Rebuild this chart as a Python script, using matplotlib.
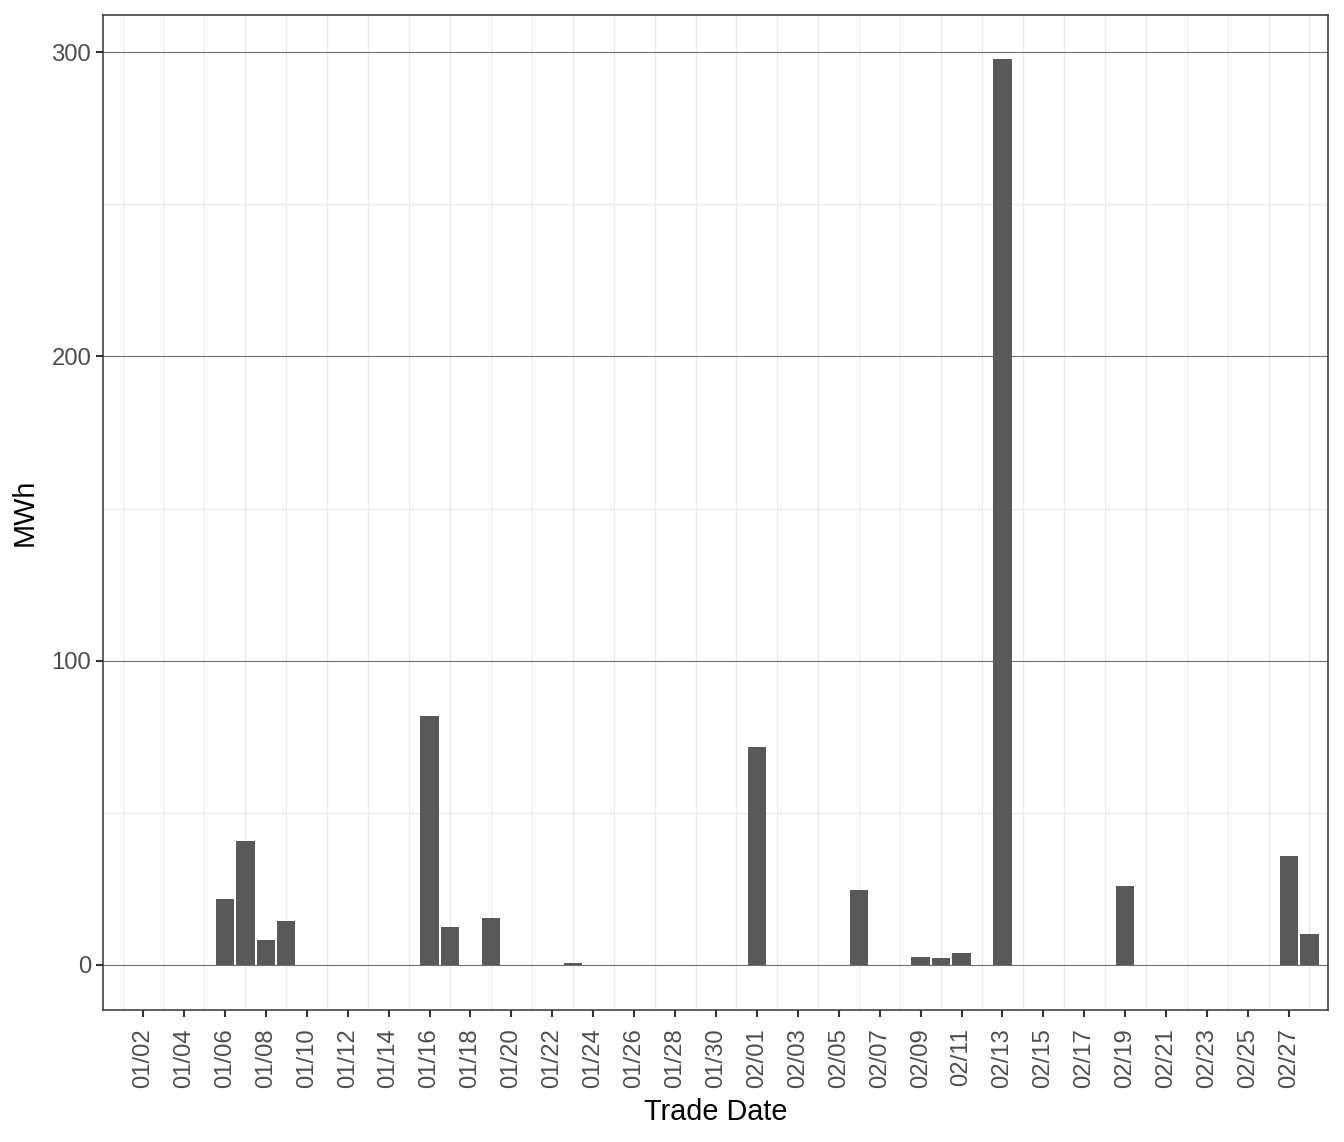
import matplotlib
matplotlib.use("Agg")
import matplotlib.pyplot as plt
import matplotlib.dates as mdates
import numpy as np
import datetime as dt

# ---- data ----
dates = ["01/06", "01/07", "01/08", "01/09", "01/16", "01/17", "01/19", "01/23",
         "02/01", "02/06", "02/09", "02/10", "02/11", "02/13", "02/19", "02/27", "02/28"]
values = [21.8, 40.9, 8.3, 14.6, 81.8, 12.5, 15.5, 0.7,
          71.6, 24.6, 2.6, 2.3, 4.0, 297.6, 26.0, 35.9, 10.2]
tick_labels = ["01/02", "01/04", "01/06", "01/08", "01/10", "01/12", "01/14", "01/16",
               "01/18", "01/20", "01/22", "01/24", "01/26", "01/28", "01/30", "02/01",
               "02/03", "02/05", "02/07", "02/09", "02/11", "02/13", "02/15", "02/17",
               "02/19", "02/21", "02/23", "02/25", "02/27"]
y_ticks = [0, 100, 200, 300]
y_minor = [50, 150, 250]
YEAR = 2023

def to_date(s):
    m, d = s.split("/")
    return dt.datetime(YEAR, int(m), int(d))

x = [to_date(s) for s in dates]
xt = [to_date(s) for s in tick_labels]
x_minor = [d - dt.timedelta(days=1) for d in xt] + [xt[-1] + dt.timedelta(days=1)]

plt.rcParams['font.family'] = ['Liberation Sans', 'DejaVu Sans']

fig = plt.figure(figsize=(13.44, 11.42), dpi=100)
W, H = 1344, 1142
ax = fig.add_axes([103 / W, (H - 1010) / H, (1328 - 103) / W, (1010 - 15) / H])

ax.bar(x, values, width=0.9, color="#595959", zorder=3)

# limits
ax.set_xlim(mdates.date2num(to_date("01/02")) - 1.955,
            mdates.date2num(to_date("02/27")) + 1.906)
ax.set_ylim(-14.8, 312.2)

ax.set_xticks(xt)
ax.set_xticklabels(tick_labels, rotation=90)
ax.set_xticks(x_minor, minor=True)
ax.set_yticks(y_ticks)
ax.set_yticklabels([str(v) for v in y_ticks])
ax.set_yticks(y_minor, minor=True)

# grid
ax.grid(False)
ax.grid(which="minor", axis="both", color="#EBEBEB", linewidth=1.0, zorder=0)
ax.grid(which="major", axis="y", color="#6E6E6E", linewidth=0.8, zorder=1)
ax.set_axisbelow(True)

for sp in ax.spines.values():
    sp.set_color("#333333")
    sp.set_linewidth(1.1)

ax.tick_params(which="major", length=5, width=1.5, color="#333333",
               labelsize=17.2, labelcolor="#4D4D4D")
ax.tick_params(axis="x", which="major", pad=8)
ax.tick_params(axis="y", which="major", pad=3.5)
ax.tick_params(which="minor", length=0)

ax.set_xlabel("Trade Date", fontsize=20.8, color="black", labelpad=7.5)
ax.set_ylabel("MWh", fontsize=20.8, color="black", labelpad=9)

fig.savefig("out.png", dpi=100, facecolor="white")
